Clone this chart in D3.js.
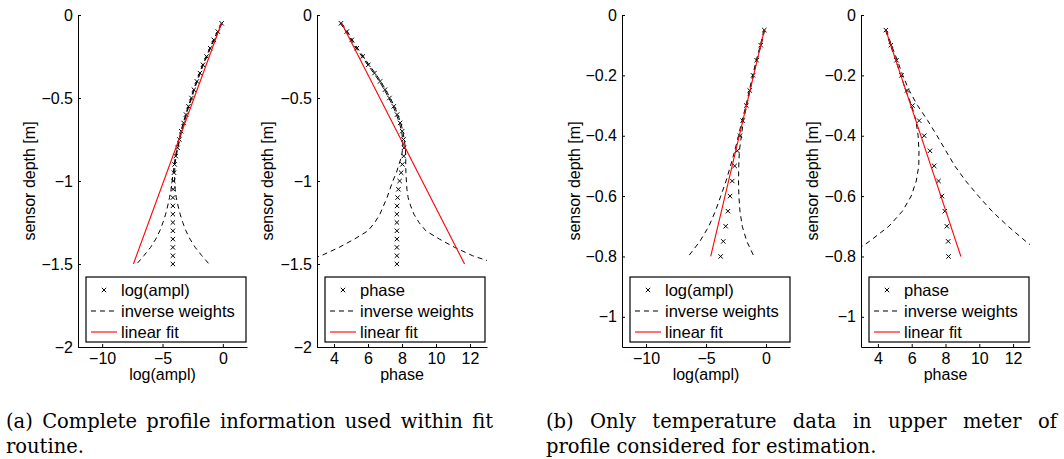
<!DOCTYPE html>
<html><head><meta charset="utf-8">
<script src="https://cdn.jsdelivr.net/npm/d3@7"></script>
<style>
body{margin:0;background:#fff}
svg{display:block}
.axis text{font-family:"Liberation Sans",Arial,sans-serif;font-size:16px;fill:#000}
.axis path,.axis line{stroke:#000;stroke-width:1}
.lbl{font-family:"Liberation Sans",Arial,sans-serif;font-size:16px;fill:#000}
.leg{font-family:"Liberation Sans",Arial,sans-serif;font-size:16.5px;fill:#000}
.cap{font-family:"DejaVu Serif",serif;font-size:19.5px;fill:#000}
</style>
</head><body>
<svg id="c" width="1064" height="459"></svg>
<script>
// ---------- data ----------
const depthFull = [-0.05,-0.1,-0.15,-0.2,-0.25,-0.3,-0.35,-0.4,-0.45,-0.5,-0.55,-0.6,-0.65,-0.7,-0.75,-0.8,-0.85,-0.9,-0.95,-1.0,-1.05,-1.1,-1.15,-1.2,-1.25,-1.3,-1.35,-1.4,-1.45,-1.5];
const depthUpper = [-0.05,-0.1,-0.15,-0.2,-0.25,-0.3,-0.35,-0.4,-0.45,-0.5,-0.55,-0.6,-0.65,-0.7,-0.75,-0.8];

// (a) complete profile: log(ampl)
const amplFull   = [-0.1,-0.42,-0.75,-1.05,-1.35,-1.65,-1.9,-2.15,-2.4,-2.6,-2.85,-3.05,-3.25,-3.45,-3.6,-3.75,-3.9,-4.0,-4.05,-4.1,-4.12,-4.14,-4.14,-4.14,-4.14,-4.14,-4.14,-4.14,-4.14,-4.14];
const amplFullLo = [-0.13,-0.45,-0.78,-1.08,-1.38,-1.68,-1.93,-2.18,-2.43,-2.63,-2.88,-3.08,-3.28,-3.48,-3.63,-3.78,-3.93,-4.03,-4.11,-4.2,-4.29,-4.42,-4.57,-4.74,-4.96,-5.22,-5.56,-5.99,-6.54,-7.14];
const amplFullHi = [-0.07,-0.39,-0.72,-1.02,-1.32,-1.62,-1.87,-2.12,-2.37,-2.57,-2.82,-3.02,-3.22,-3.42,-3.57,-3.72,-3.87,-3.97,-3.99,-4.0,-3.95,-3.86,-3.71,-3.54,-3.32,-3.06,-2.72,-2.29,-1.74,-1.14];
const amplFullFitDepth = [-0.05,-1.5];
const amplFullFit      = [-0.12,-7.41];

// (a) complete profile: phase
const phaseFull   = [4.41,4.75,5.04,5.34,5.69,6.02,6.38,6.71,7.0,7.26,7.52,7.71,7.89,8.01,8.09,8.12,8.1,8.02,7.95,7.86,7.79,7.74,7.71,7.7,7.7,7.7,7.7,7.7,7.7,7.7];
const phaseFullLo = [4.37,4.71,5.0,5.3,5.65,5.98,6.34,6.67,6.96,7.22,7.48,7.67,7.85,7.97,8.05,8.04,7.98,7.82,7.67,7.46,7.29,7.12,6.91,6.7,6.4,6.0,5.2,4.3,3.25,1.8];
const phaseFullHi = [4.45,4.79,5.08,5.38,5.73,6.06,6.42,6.75,7.04,7.3,7.56,7.75,7.93,8.05,8.13,8.2,8.22,8.22,8.23,8.26,8.29,8.36,8.51,8.7,9.0,9.4,10.2,11.1,12.15,13.6];
const phaseFullFitDepth = [-0.05,-1.5];
const phaseFullFit      = [4.45,11.68];

// (b) upper meter: log(ampl)
const amplUpper   = [-0.14,-0.44,-0.78,-1.08,-1.36,-1.64,-1.94,-2.17,-2.39,-2.61,-2.81,-3.0,-3.17,-3.36,-3.56,-3.78];
const amplUpperLo = [-0.17,-0.47,-0.81,-1.11,-1.39,-1.67,-2.0,-2.29,-2.6,-2.96,-3.33,-3.77,-4.22,-4.76,-5.51,-6.48];
const amplUpperHi = [-0.11,-0.41,-0.75,-1.05,-1.33,-1.61,-1.88,-2.05,-2.22,-2.27,-2.29,-2.26,-2.17,-1.98,-1.6,-1.0];
const amplUpperFitDepth = [-0.05,-0.8];
const amplUpperFit      = [-0.14,-4.61];

// (b) upper meter: phase
const phaseUpper   = [4.47,4.77,5.1,5.4,5.72,6.05,6.44,6.74,7.08,7.33,7.59,7.79,7.96,8.08,8.16,8.18];
const phaseUpperLo = [4.45,4.74,5.06,5.35,5.65,6.0,6.25,6.38,6.43,6.42,6.27,5.97,5.45,4.65,3.5,2.2];
const phaseUpperHi = [4.5,4.8,5.15,5.47,5.85,6.35,6.95,7.5,8.02,8.55,9.2,9.95,10.75,11.7,12.75,13.9];
const phaseUpperFitDepth = [-0.05,-0.8];
const phaseUpperFit      = [4.47,8.91];

// ticks
const yTicksFull  = [0,-0.5,-1,-1.5,-2];
const yTicksUpper = [0,-0.2,-0.4,-0.6,-0.8,-1];
const xTicksAmpl  = [-10,-5,0];
const xTicksPhase = [4,6,8,10,12];
const legendAmpl  = ["log(ampl)","inverse weights","linear fit"];
const legendPhase = ["phase","inverse weights","linear fit"];
const captionA = ["(a) Complete profile information used within fit","routine."];
const captionB = ["(b) Only temperature data in upper meter of","profile considered for estimation."];

// ---------- drawing ----------
const svg = d3.select("#c");
const TOP = 15, BOT = 347;
const fmt = v => (v < 0 ? "\u2212" : "") + Math.abs(v);

function zip(depths, vals){ return depths.map((d,i)=>({d:d, v:vals[i]})); }

function panel(o, idx){
  const x = d3.scaleLinear().domain(o.xDomain).range([o.left, o.right]);
  const y = d3.scaleLinear().domain(o.yDomain).range([BOT, TOP]);
  const g = svg.append("g");
  const cid = "clip"+idx;
  svg.append("clipPath").attr("id",cid).append("rect")
     .attr("x",o.left).attr("y",TOP).attr("width",o.right-o.left).attr("height",BOT-TOP);
  const plot = g.append("g").attr("clip-path","url(#"+cid+")");
  const line = d3.line().x(p=>x(p.v)).y(p=>y(p.d));

  // markers
  zip(o.depth, o.data).forEach(p=>{
    const cx = x(p.v), cy = y(p.d), s = 2.2;
    plot.append("path").attr("d",`M${cx-s},${cy-s}L${cx+s},${cy+s}M${cx-s},${cy+s}L${cx+s},${cy-s}`)
        .attr("stroke","#000").attr("stroke-width",1).attr("fill","none");
  });
  // inverse weights
  [o.lo, o.hi].forEach(arr=>{
    plot.append("path").datum(zip(o.depth, arr)).attr("d",line)
        .attr("fill","none").attr("stroke","#000").attr("stroke-width",1).attr("stroke-dasharray","5,4");
  });
  // linear fit
  plot.append("path").datum(zip(o.fitDepth, o.fit)).attr("d",line)
      .attr("fill","none").attr("stroke","#ff0000").attr("stroke-width",1.1);

  // axes
  g.append("g").attr("class","axis").attr("transform",`translate(${o.left},0)`)
   .call(d3.axisLeft(y).tickValues(o.yTicks).tickFormat(fmt).tickSizeInner(-3).tickSizeOuter(0).tickPadding(5));
  g.append("g").attr("class","axis").attr("transform",`translate(0,${BOT})`)
   .call(d3.axisBottom(x).tickValues(o.xTicks).tickFormat(fmt).tickSizeInner(-3).tickSizeOuter(0).tickPadding(6));

  // labels
  g.append("text").attr("class","lbl").attr("text-anchor","middle")
   .attr("x",(o.left+o.right)/2).attr("y",380).text(o.xLabel);
  g.append("text").attr("class","lbl").attr("text-anchor","middle")
   .attr("transform",`translate(${o.yLabelX},${(TOP+BOT)/2}) rotate(-90)`).text("sensor depth [m]");

  // legend
  const L = o.legLeft, W = 160, T = 277, H = 65;
  const lg = g.append("g");
  lg.append("rect").attr("x",L).attr("y",T).attr("width",W).attr("height",H)
    .attr("fill","#fff").attr("stroke","#000").attr("stroke-width",1.2);
  const rows = [290, 311, 332];
  const sx0 = L+5, sx1 = L+31, sc = (sx0+sx1)/2;
  lg.append("path").attr("d",`M${sc-2.2},${rows[0]-2.2}L${sc+2.2},${rows[0]+2.2}M${sc-2.2},${rows[0]+2.2}L${sc+2.2},${rows[0]-2.2}`)
    .attr("stroke","#000").attr("stroke-width",1);
  lg.append("line").attr("x1",sx0).attr("x2",sx1).attr("y1",rows[1]).attr("y2",rows[1])
    .attr("stroke","#000").attr("stroke-dasharray","5,4");
  lg.append("line").attr("x1",sx0).attr("x2",sx1).attr("y1",rows[2]).attr("y2",rows[2])
    .attr("stroke","#ff0000").attr("stroke-width",1.1);
  o.legend.forEach((t,i)=>{
    lg.append("text").attr("class","leg").attr("x",L+35).attr("y",rows[i]).attr("dy","0.36em").text(t);
  });
}

const panels = [
  {left:78,  right:247,  xDomain:[-12,2], yDomain:[-2,0],   xTicks:xTicksAmpl,  yTicks:yTicksFull,
   depth:depthFull, data:amplFull, lo:amplFullLo, hi:amplFullHi, fitDepth:amplFullFitDepth, fit:amplFullFit,
   xLabel:"log(ampl)", yLabelX:35, legLeft:86, legend:legendAmpl},
  {left:317, right:487,  xDomain:[3,13],  yDomain:[-2,0],   xTicks:xTicksPhase, yTicks:yTicksFull,
   depth:depthFull, data:phaseFull, lo:phaseFullLo, hi:phaseFullHi, fitDepth:phaseFullFitDepth, fit:phaseFullFit,
   xLabel:"phase", yLabelX:273, legLeft:325, legend:legendPhase},
  {left:622, right:790,  xDomain:[-12,2], yDomain:[-1.1,0], xTicks:xTicksAmpl,  yTicks:yTicksUpper,
   depth:depthUpper, data:amplUpper, lo:amplUpperLo, hi:amplUpperHi, fitDepth:amplUpperFitDepth, fit:amplUpperFit,
   xLabel:"log(ampl)", yLabelX:580, legLeft:630, legend:legendAmpl},
  {left:861, right:1030, xDomain:[3,13],  yDomain:[-1.1,0], xTicks:xTicksPhase, yTicks:yTicksUpper,
   depth:depthUpper, data:phaseUpper, lo:phaseUpperLo, hi:phaseUpperHi, fitDepth:phaseUpperFitDepth, fit:phaseUpperFit,
   xLabel:"phase", yLabelX:818, legLeft:869, legend:legendPhase}
];
panels.forEach(panel);

// captions
const cg = svg.append("g");
function justify(str, x0, x1, y){
  const words = str.split(" ");
  const widths = words.map(w=>{ const t = cg.append("text").attr("class","cap").text(w);
    const wd = t.node().getComputedTextLength(); t.remove(); return wd; });
  const gap = (x1 - x0 - d3.sum(widths))/(words.length-1);
  let xx = x0;
  words.forEach((w,i)=>{ cg.append("text").attr("class","cap").attr("x",xx).attr("y",y).text(w); xx += widths[i]+gap; });
}
justify(captionA[0], 6, 493, 428);
cg.append("text").attr("class","cap").attr("x",6).attr("y",453).text(captionA[1]);
justify(captionB[0], 546, 1057, 428);
cg.append("text").attr("class","cap").attr("x",546).attr("y",453).text(captionB[1]);
</script>
</body></html>
